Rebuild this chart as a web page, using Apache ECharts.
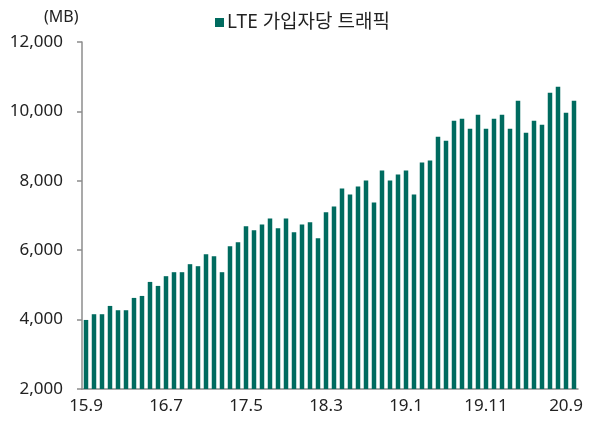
<!DOCTYPE html>
<html lang="ko">
<head>
<meta charset="utf-8">
<script src="https://cdn.jsdelivr.net/npm/echarts@6/dist/echarts.min.js"></script>
<style>
  html, body { margin: 0; padding: 0; background: #fff; }
  #chartMain { width: 589px; height: 424px; }
</style>
</head>
<body>
<div id="chartMain"></div>
<script>
// 월별 라벨 15.9 ~ 20.10
var months = [];
for (var y = 15; y <= 20; y++) {
    for (var m = 1; m <= 12; m++) {
        if (y === 15 && m < 9) continue;
        if (y === 20 && m > 10) continue;
        months.push(y + '.' + m);
    }
}

// LTE 가입자당 트래픽 (MB)
var traffic = [
    3990, 4155, 4155, 4394, 4270, 4270, 4625, 4682, 5086, 4971,
    5251, 5366, 5366, 5597, 5539, 5885, 5827, 5366, 6116, 6231,
    6693, 6577, 6739, 6912, 6635, 6912, 6520, 6739, 6808, 6347,
    7097, 7258, 7777, 7604, 7835, 8008, 7374, 8297, 8008, 8181,
    8297, 7604, 8527, 8585, 9268, 9153, 9730, 9788, 9499, 9903,
    9499, 9788, 9903, 9499, 10307, 9384, 9730, 9615, 10538, 10711,
    9961, 10307
];

var seriesName = 'LTE 가입자당 트래픽';
var fontFamily = "'Noto Sans', 'Noto Sans CJK KR', sans-serif";
var axisGrey = '#8c8c8c';

var myChart = echarts.init(document.getElementById('chartMain'));

myChart.setOption({
    animation: false,
    textStyle: { fontFamily: fontFamily },
    title: {
        text: '(MB)',
        left: 39,
        top: 4,
        textStyle: { fontSize: 16, fontWeight: 'normal', color: '#222', fontFamily: fontFamily }
    },
    legend: {
        data: [seriesName],
        left: 210,
        top: 8,
        icon: 'rect',
        itemWidth: 9,
        itemHeight: 9,
        itemGap: 4,
        textStyle: { fontSize: 19, color: '#222', fontFamily: fontFamily, padding: [0, 0, 0, -2] }
    },
    grid: {
        left: 82,
        right: 11,
        top: 42,
        bottom: 35,
        containLabel: false
    },
    xAxis: {
        type: 'category',
        data: months,
        boundaryGap: true,
        axisLine: { lineStyle: { color: axisGrey, width: 1.5 } },
        axisTick: { interval: 9, length: 5, lineStyle: { color: axisGrey, width: 1.5 } },
        axisLabel: { interval: 9, fontSize: 17, color: '#222', margin: 9 }
    },
    yAxis: {
        type: 'value',
        min: 2000,
        max: 12000,
        interval: 2000,
        splitLine: { show: false },
        axisLine: { show: true, lineStyle: { color: axisGrey, width: 1.5 } },
        axisTick: { show: true, length: 5, lineStyle: { color: axisGrey, width: 1.5 } },
        axisLabel: {
            fontSize: 17,
            color: '#222',
            margin: 19,
            formatter: function (v) { return v.toLocaleString('en-US'); }
        }
    },
    series: [
        {
            name: seriesName,
            type: 'bar',
            data: traffic,
            barWidth: 4.5,
            itemStyle: { color: '#006b5f' }
        }
    ]
});
</script>
</body>
</html>
